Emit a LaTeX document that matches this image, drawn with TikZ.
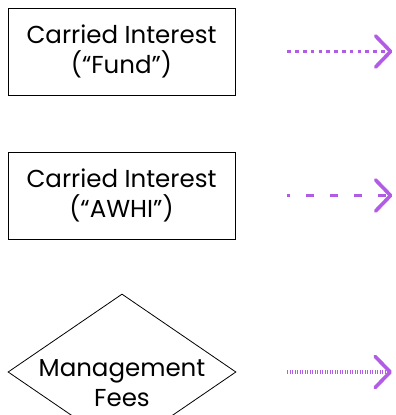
\documentclass[tikz,border=0pt]{standalone}
\usepackage{fontspec}
\setmainfont{Poppins}
\usepackage{tikz}
\usetikzlibrary{shapes.geometric, arrows.meta, positioning}

\definecolor{flowpurple}{HTML}{B25CE6}

\begin{document}
\begin{tikzpicture}[
  x=1pt, y=1pt,
  txt/.style={font=\fontsize{24.5}{30.5}\selectfont, align=center},
  box/.style={draw, line width=0.8pt, minimum width=227pt, minimum height=87pt, inner sep=0pt, txt},
  kite/.style={draw, diamond, line width=0.8pt, minimum width=228pt, minimum height=156pt, inner sep=0pt},
  flow/.style={flowpurple, line width=3.3pt, -{Straight Barb[length=15pt, width=31pt, line width=3.6pt, round]}},
]
\useasboundingbox (0,0) rectangle (396,-415);

% Sources
\node[box] (fund) at (121.5,-51.5) {Carried Interest\\(“Fund”)};
\node[box] (awhi) at (121.5,-195.5) {Carried Interest\\(“AWHI”)};
\node[kite] (fees) at (122,-372) {};
\node[txt] (feestext) at ([yshift=-11pt]fees.center) {Management\\Fees};

% Arrow ends
\coordinate[right=52pt of fund] (fundtail);
\coordinate[right=157pt of fund] (fundhead);
\coordinate[right=52pt of awhi] (awhitail);
\coordinate[right=157pt of awhi] (awhihead);
\coordinate (feestail) at (287,-372);
\coordinate (feeshead) at (392,-372);

% Arrows
\draw[flow, dash pattern=on 3.5pt off 4.3pt] (fundtail) -- (fundhead);
\draw[flow, dash pattern=on 8pt off 16pt, dash phase=5pt] (awhitail) -- (awhihead);
\draw[flow, dash pattern=on 1.4pt off 1.1pt] (feestail) -- (feeshead);

\end{tikzpicture}
\end{document}
